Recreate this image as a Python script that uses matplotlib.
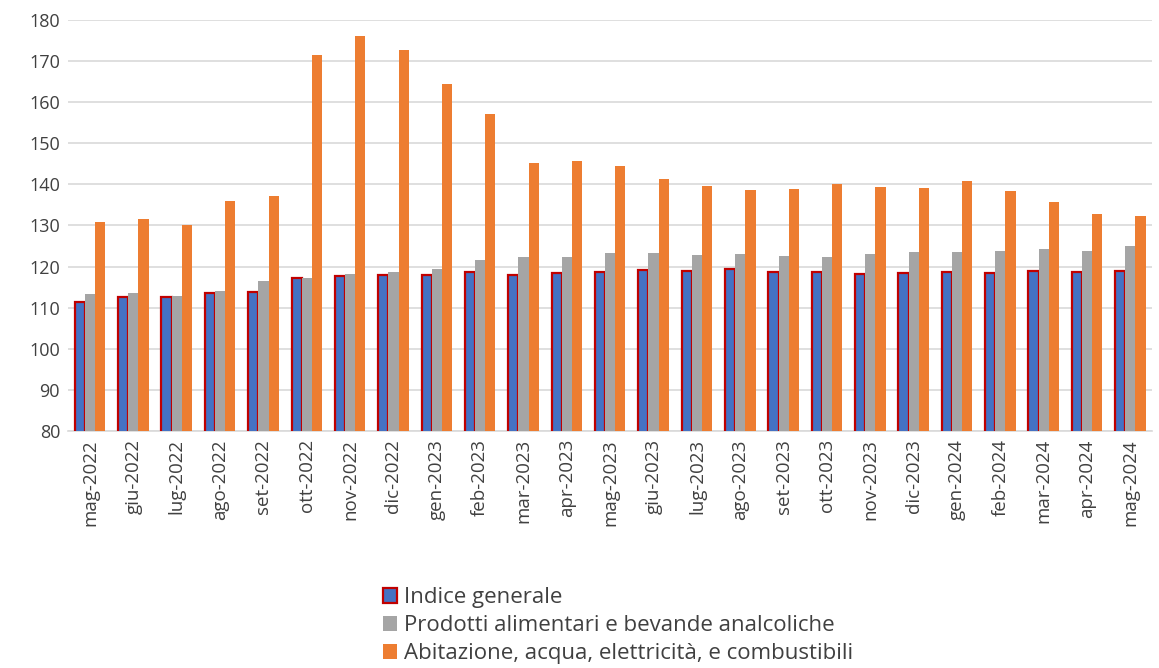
import matplotlib.pyplot as plt
import numpy as np

OUT = "out.png"

MONTHS = ["mag-2022", "giu-2022", "lug-2022", "ago-2022", "set-2022", "ott-2022", "nov-2022",
          "dic-2022", "gen-2023", "feb-2023", "mar-2023", "apr-2023", "mag-2023", "giu-2023",
          "lug-2023", "ago-2023", "set-2023", "ott-2023", "nov-2023", "dic-2023", "gen-2024",
          "feb-2024", "mar-2024", "apr-2024", "mag-2024"]
GENERALE = [111.3, 112.7, 112.7, 113.5, 113.7, 117.1, 117.8, 118.0, 118.0, 118.6, 118.0, 118.5,
            118.7, 119.1, 118.8, 119.4, 118.6, 118.6, 118.1, 118.5, 118.6, 118.5, 118.8, 118.6, 118.8]
ALIMENTARI = [113.3, 113.5, 112.9, 114.0, 116.5, 117.2, 118.1, 118.7, 119.3, 121.6, 122.3, 122.3,
              123.2, 123.3, 122.8, 123.1, 122.6, 122.4, 123.0, 123.5, 123.5, 123.9, 124.3, 123.9, 125.1]
ABITAZIONE = [130.8, 131.6, 130.0, 136.0, 137.2, 171.5, 176.0, 172.6, 164.4, 157.1, 145.3, 145.7,
              144.5, 141.3, 139.6, 138.6, 138.9, 140.1, 139.4, 139.1, 140.8, 138.4, 135.8, 132.8, 132.2]
SERIES = ["Indice generale", "Prodotti alimentari e bevande analcoliche",
          "Abitazione, acqua, elettricità, e combustibili"]

plt.rcParams.update({"font.family": ["Open Sans", "DejaVu Sans"], "font.size": 12})
fig = plt.figure(figsize=(11.59, 6.68), dpi=100)
ax = fig.add_axes([0.059, 0.355, 0.935, 0.615])

x = np.arange(len(MONTHS))
w = 0.235
ax.bar(x - w, GENERALE, w, color="#4472C4", edgecolor="#C00000", linewidth=1.6,
       label=SERIES[0], zorder=3)
ax.bar(x, ALIMENTARI, w, color="#A5A5A5", label=SERIES[1], zorder=3)
ax.bar(x + w, ABITAZIONE, w, color="#ED7D31", label=SERIES[2], zorder=3)

ax.set_ylim(80, 180)
ax.set_yticks(range(80, 181, 10))
ax.set_xlim(-0.5, len(MONTHS) - 0.5)
ax.set_xticks(x)
ax.set_xticklabels(MONTHS, rotation=90)
ax.tick_params(axis="y", length=0, labelsize=13, colors="#404040", pad=6)
ax.tick_params(axis="x", length=0, labelsize=13.5, colors="#404040", pad=6)
ax.grid(axis="y", color="#D9D9D9", lw=1.2, zorder=0)
for s in ["top", "right", "left"]:
    ax.spines[s].set_visible(False)
ax.spines["bottom"].set_color("#D9D9D9")
ax.spines["bottom"].set_linewidth(1.2)

fig.legend(loc="upper center", bbox_to_anchor=(0.533, 0.138), ncol=1, frameon=False,
           fontsize=16, handlelength=0.65, handleheight=0.65, handletextpad=0.3,
           labelspacing=0.32, labelcolor="#404040", borderpad=0)

fig.savefig(OUT, dpi=100)
